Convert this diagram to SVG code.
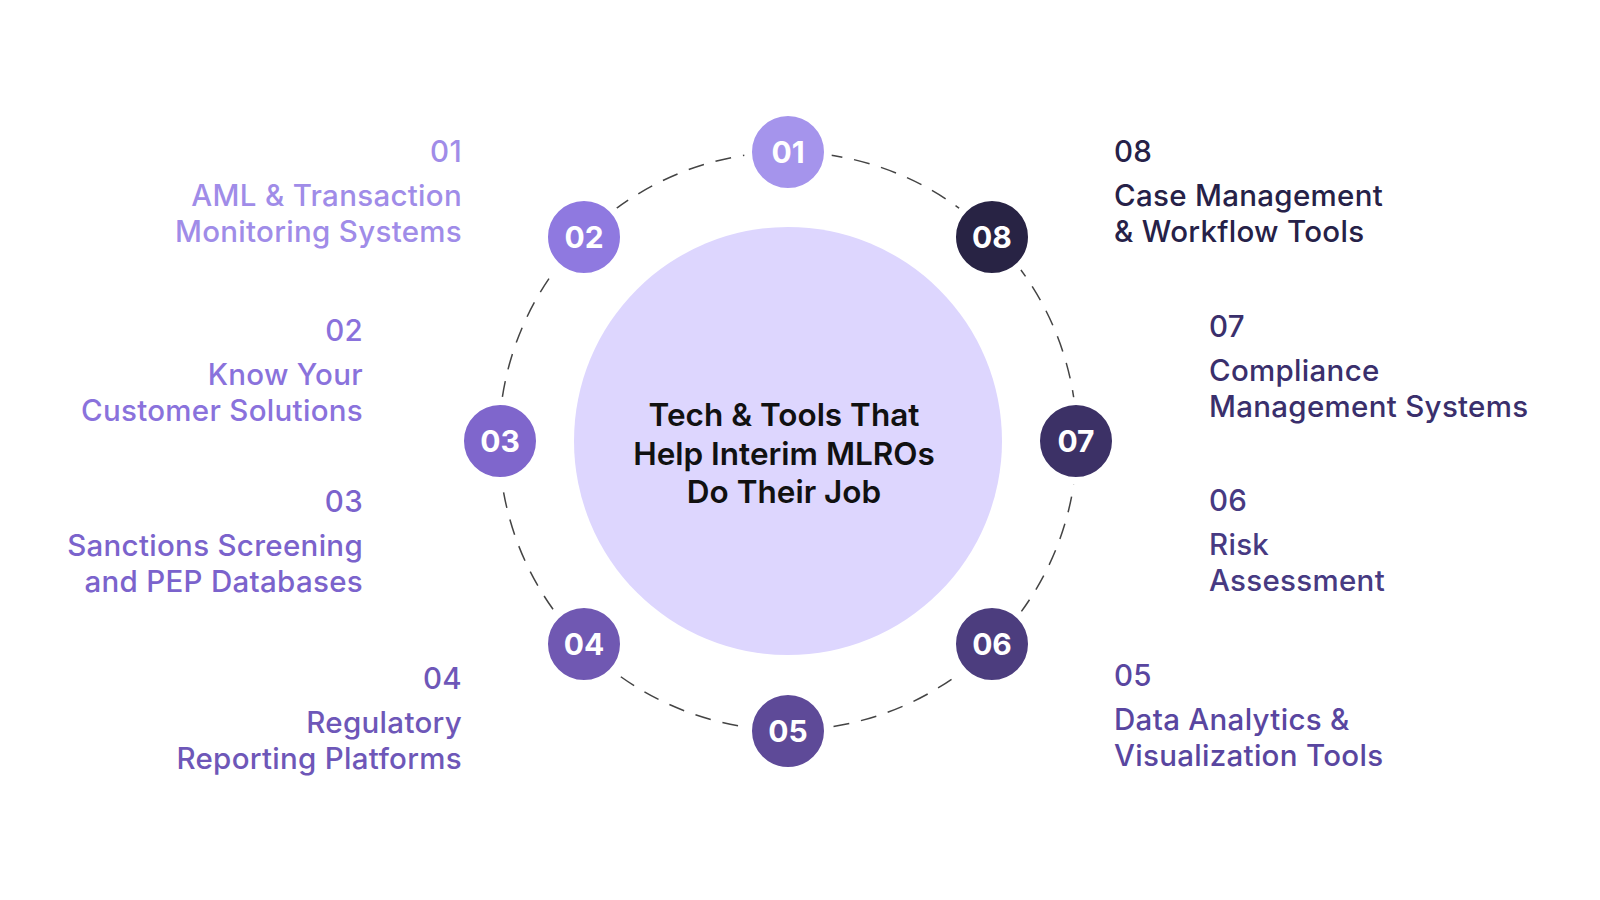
<svg xmlns="http://www.w3.org/2000/svg" width="1600" height="900" viewBox="0 0 1600 900">
<style>
.num{font-family:Inter,"Noto Sans",sans-serif;font-weight:700;font-size:30px;fill:#fff;text-anchor:middle}
.lbl{font-family:Inter,"Noto Sans",sans-serif;font-weight:500;font-size:29.5px;letter-spacing:0.3px}
.l{text-anchor:end}
.ctr{font-family:Inter,"Noto Sans",sans-serif;font-weight:600;font-size:31.5px;fill:#111;text-anchor:middle}
.node{stroke:#fff;stroke-width:8}
</style>
<rect width="1600" height="900" fill="#fff"/>
<circle cx="788" cy="441" r="214" fill="#ddd6fe"/>
<g id="connectors"><circle cx="788" cy="441" r="289" fill="none" stroke="#444" stroke-width="1.5" stroke-dasharray="16 12"/></g>
<g id="center"><text class="ctr" x="784" y="426">Tech &amp; Tools That</text><text class="ctr" x="784" y="465">Help Interim MLROs</text><text class="ctr" x="784" y="503">Do Their Job</text></g>
<g id="n01"><circle class="node" cx="788" cy="152" r="40" fill="#a594ec"/><text class="num" x="788" y="163">01</text></g>
<g id="n02"><circle class="node" cx="584" cy="237" r="40" fill="#8f79e0"/><text class="num" x="584" y="248">02</text></g>
<g id="n03"><circle class="node" cx="500" cy="441" r="40" fill="#7f66cc"/><text class="num" x="500" y="452">03</text></g>
<g id="n04"><circle class="node" cx="584" cy="644" r="40" fill="#7058b2"/><text class="num" x="584" y="655">04</text></g>
<g id="n05"><circle class="node" cx="788" cy="731" r="40" fill="#5e4a98"/><text class="num" x="788" y="742">05</text></g>
<g id="n06"><circle class="node" cx="992" cy="644" r="40" fill="#4c3d7e"/><text class="num" x="992" y="655">06</text></g>
<g id="n07"><circle class="node" cx="1076" cy="441" r="40" fill="#3c3166"/><text class="num" x="1076" y="452">07</text></g>
<g id="n08"><circle class="node" cx="992" cy="237" r="40" fill="#282344"/><text class="num" x="992" y="248">08</text></g>
<g id="t01" class="lbl l" fill="#a08ce8"><text x="462" y="162">01</text><text x="462" y="206">AML &amp; Transaction</text><text x="462" y="242">Monitoring Systems</text></g>
<g id="t02" class="lbl l" fill="#8a72dc"><text x="363" y="341">02</text><text x="363" y="385">Know Your</text><text x="363" y="421">Customer Solutions</text></g>
<g id="t03" class="lbl l" fill="#7b63cc"><text x="363" y="512">03</text><text x="363" y="556">Sanctions Screening</text><text x="363" y="592">and PEP Databases</text></g>
<g id="t04" class="lbl l" fill="#6e57b8"><text x="462" y="689">04</text><text x="462" y="733">Regulatory</text><text x="462" y="769">Reporting Platforms</text></g>
<g id="t08" class="lbl" fill="#262148"><text x="1114" y="162">08</text><text x="1114" y="206">Case Management</text><text x="1114" y="242">&amp; Workflow Tools</text></g>
<g id="t07" class="lbl" fill="#3a2f6c"><text x="1209" y="337">07</text><text x="1209" y="381">Compliance</text><text x="1209" y="417">Management Systems</text></g>
<g id="t06" class="lbl" fill="#473a82"><text x="1209" y="511">06</text><text x="1209" y="555">Risk</text><text x="1209" y="591">Assessment</text></g>
<g id="t05" class="lbl" fill="#5946a0"><text x="1114" y="686">05</text><text x="1114" y="730">Data Analytics &amp;</text><text x="1114" y="766">Visualization Tools</text></g>
</svg>
